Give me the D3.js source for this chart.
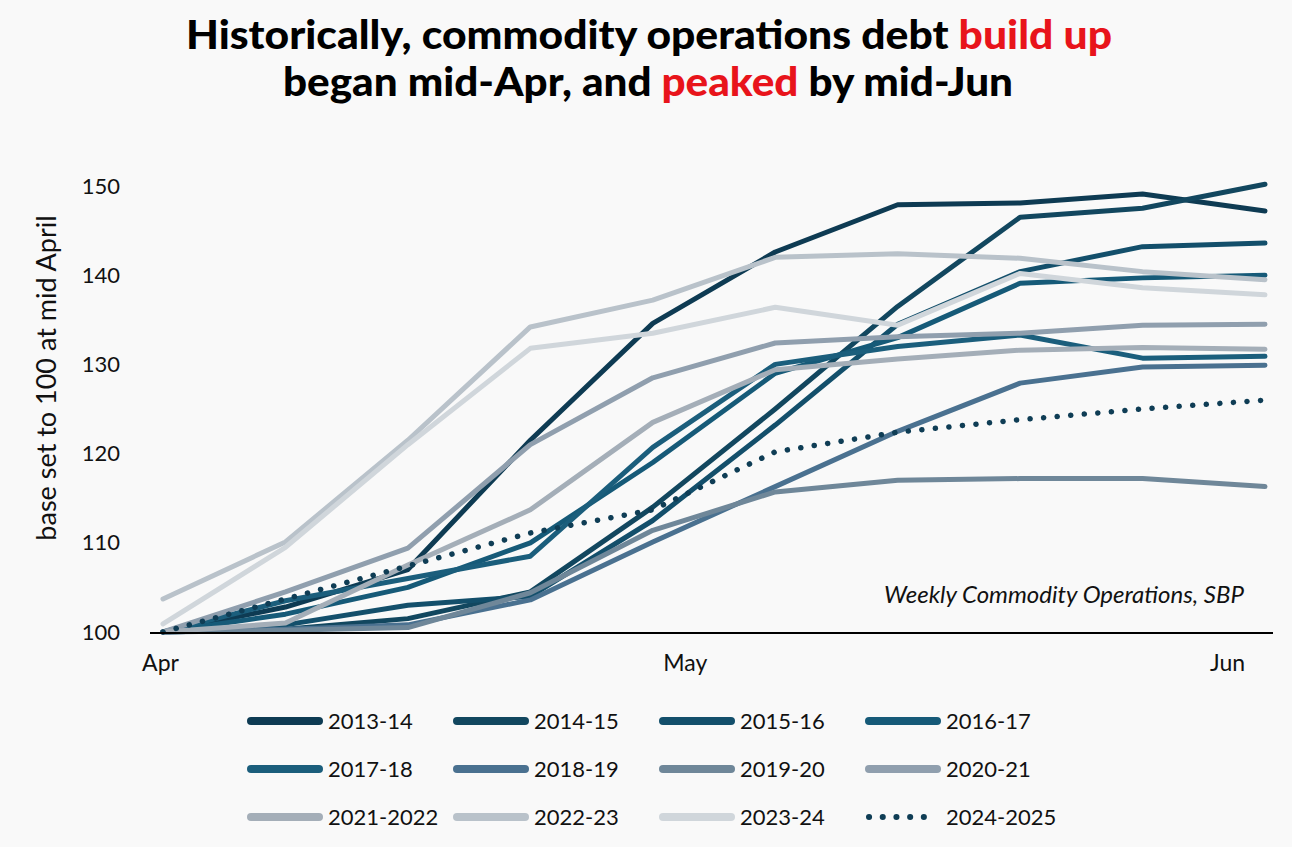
<!DOCTYPE html>
<html lang="en">
<head>
    <meta charset="UTF-8">
    <title>Commodity operations debt build up</title>
    <script src="https://d3js.org/d3.v7.min.js"></script>
    <style>
        body {
            margin: 0;
            background-color: #f9f9f9;
            font-family: Lato, "Open Sans", sans-serif;
        }
        svg {
            display: block;
        }
    </style>
</head>
<body>
    <div id="chart"></div>

    <script>
        // Weekly observation dates (year only used to place the weeks on a time axis)
        const weeks = ["2024-04-01", "2024-04-08", "2024-04-15", "2024-04-22", "2024-04-29",
                       "2024-05-06", "2024-05-13", "2024-05-20", "2024-05-27", "2024-06-03"];

        // Index values (base 100)
        const y2013_14  = [100, 102.8, 107.0, 121.5, 134.6, 142.6, 147.9, 148.1, 149.1, 147.2];
        const y2014_15  = [100, 100.3, 101.5, 104.5, 114.0, 125.0, 136.5, 146.5, 147.5, 150.2];
        const y2015_16  = [100, 100.8, 103.0, 104.0, 112.5, 123.2, 134.5, 140.4, 143.2, 143.6];
        const y2016_17  = [100, 102.0, 105.0, 110.0, 119.0, 129.0, 133.0, 139.1, 139.7, 140.0];
        const y2017_18  = [100, 103.5, 106.0, 108.5, 120.7, 130.0, 132.0, 133.3, 130.7, 130.9];
        const y2018_19  = [100, 100.3, 100.8, 103.6, 110.1, 116.3, 122.5, 127.9, 129.7, 129.9];
        const y2019_20  = [100, 100.2, 100.5, 104.4, 111.4, 115.7, 117.0, 117.2, 117.2, 116.3];
        const y2020_21  = [100, 104.5, 109.4, 121.0, 128.5, 132.4, 133.1, 133.5, 134.4, 134.5];
        const y2021_22  = [100, 101.0, 107.5, 113.7, 123.5, 129.4, 130.6, 131.6, 131.9, 131.7];
        const y2022_23  = [103.7, 110.1, 121.5, 134.2, 137.2, 142.0, 142.4, 141.9, 140.4, 139.5];
        const y2023_24  = [100.9, 109.5, 121.0, 131.8, 133.5, 136.4, 134.4, 140.2, 138.6, 137.8];
        const y2024_25  = [100, 103.7, 107.4, 111.1, 113.7, 120.2, 122.4, 123.8, 125.0, 126.0];

        const seriesNames = ["2013-14", "2014-15", "2015-16", "2016-17", "2017-18", "2018-19",
                             "2019-20", "2020-21", "2021-2022", "2022-23", "2023-24", "2024-2025"];
        const seriesValues = [y2013_14, y2014_15, y2015_16, y2016_17, y2017_18, y2018_19,
                              y2019_20, y2020_21, y2021_22, y2022_23, y2023_24, y2024_25];

        const yTicks = [100, 110, 120, 130, 140, 150];

        // Line colours, dark navy fading to light grey; last series is dotted
        const colors = ["#0e3b53", "#12475f", "#134f6b", "#165a78", "#1b5e7c", "#4a7190",
                        "#6f8799", "#909fae", "#a4aeb8", "#b9c2ca", "#d0d6db", "#0f3d55"];

        const width = 1292;
        const height = 847;
        const parseDate = d3.timeParse("%Y-%m-%d");
        const dates = weeks.map(parseDate);

        const svg = d3.select("#chart")
            .append("svg")
            .attr("width", width)
            .attr("height", height)
            .style("background", "#f9f9f9");

        // Scales
        const x = d3.scaleTime()
            .domain(d3.extent(dates))
            .range([163, 1265]);

        const y = d3.scaleLinear()
            .domain([100, 150])
            .range([632, 186]);

        // Title (two lines, key words in red)
        const title = svg.append("g")
            .attr("font-weight", 900)
            .attr("font-size", 40)
            .attr("text-anchor", "middle")
            .attr("fill", "#000");

        const t1 = title.append("text")
            .attr("x", 649).attr("y", 49)
            .attr("textLength", 926).attr("lengthAdjust", "spacingAndGlyphs");
        t1.append("tspan").text("Historically, commodity operations debt ");
        t1.append("tspan").attr("fill", "#e8141b").text("build up");

        const t2 = title.append("text")
            .attr("x", 648).attr("y", 96)
            .attr("textLength", 730).attr("lengthAdjust", "spacingAndGlyphs");
        t2.append("tspan").text("began mid-Apr, and ");
        t2.append("tspan").attr("fill", "#e8141b").text("peaked");
        t2.append("tspan").text(" by mid-Jun");

        // Y axis (labels only)
        const yAxis = svg.append("g")
            .attr("transform", "translate(163,0)")
            .call(d3.axisLeft(y).tickValues(yTicks).tickSize(0).tickPadding(43));
        yAxis.select(".domain").remove();
        yAxis.selectAll("text")
            .attr("font-family", "Lato, sans-serif")
            .attr("font-size", 22)
            .attr("fill", "#111");

        svg.append("text")
            .attr("transform", "translate(56,378) rotate(-90)")
            .attr("text-anchor", "middle")
            .attr("font-size", 27)
            .attr("fill", "#111")
            .text("base set to 100 at mid April");

        // X axis: month labels at the start of each month
        const xAxis = svg.append("g")
            .attr("transform", "translate(0,632)")
            .call(d3.axisBottom(x)
                .ticks(d3.timeMonth.every(1))
                .tickFormat(d3.timeFormat("%b"))
                .tickSize(0)
                .tickPadding(23));
        xAxis.select(".domain").remove();
        xAxis.selectAll("text")
            .attr("font-family", "Lato, sans-serif")
            .attr("font-size", 23)
            .attr("fill", "#111")
            .attr("dx", -3);

        // Lines
        const line = d3.line()
            .x((d, i) => x(dates[i]))
            .y(d => y(d));

        svg.append("g")
            .selectAll("path")
            .data(seriesValues)
            .enter()
            .append("path")
            .attr("d", d => line(d))
            .attr("fill", "none")
            .attr("stroke", (_, i) => colors[i])
            .attr("stroke-width", (_, i) => i === 11 ? 5.5 : 5)
            .attr("stroke-linejoin", "round")
            .attr("stroke-linecap", "round")
            .attr("stroke-dasharray", (_, i) => i === 11 ? "0.1 13.5" : null);

        // Baseline axis line
        svg.append("line")
            .attr("x1", 150)
            .attr("x2", 1273)
            .attr("y1", y(100) + 1)
            .attr("y2", y(100) + 1)
            .attr("stroke", "#000")
            .attr("stroke-width", 2.2);

        // Source note
        svg.append("text")
            .attr("x", 1244)
            .attr("y", 603)
            .attr("text-anchor", "end")
            .attr("font-style", "italic")
            .attr("font-size", 24)
            .attr("fill", "#111")
            .text("Weekly Commodity Operations, SBP");

        // Legend: 4 columns x 3 rows
        const legendCols = [247, 453, 659, 865];
        const legendRows = [721, 769, 817];

        const legend = svg.append("g")
            .selectAll("g")
            .data(seriesNames)
            .enter()
            .append("g")
            .attr("transform", (_, i) => `translate(${legendCols[i % 4]},${legendRows[Math.floor(i / 4)]})`);

        legend.append("line")
            .attr("x1", 4)
            .attr("x2", 72)
            .attr("stroke", (_, i) => colors[i])
            .attr("stroke-width", (_, i) => i === 11 ? 6 : 8)
            .attr("stroke-linecap", "round")
            .attr("stroke-dasharray", (_, i) => i === 11 ? "0.1 13.6" : null);

        legend.append("text")
            .attr("x", 81)
            .attr("dy", "0.36em")
            .attr("font-size", 22)
            .attr("fill", "#111")
            .text(d => d);
    </script>
</body>
</html>
